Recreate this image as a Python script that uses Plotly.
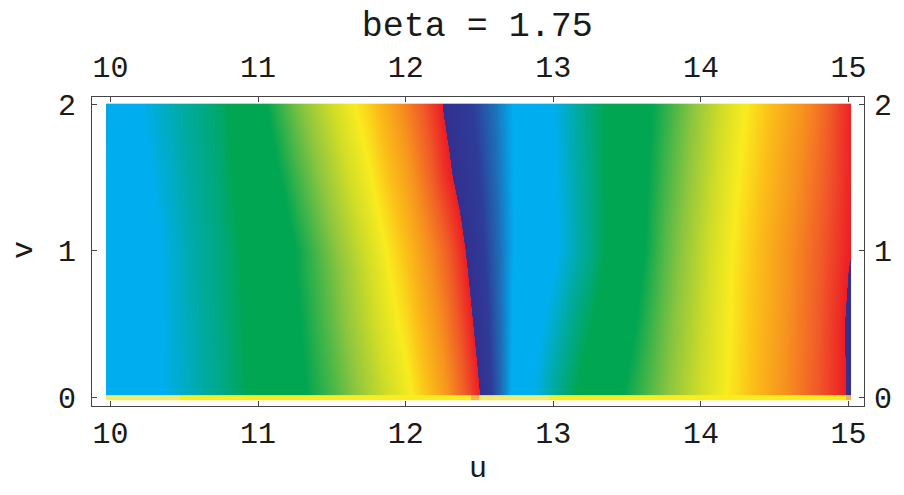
import plotly.graph_objects as go

# ---- data ----
title_text = "beta = 1.75"
x_label = "u"
y_label = "v"
x_ticks = [10, 11, 12, 13, 14, 15]
y_ticks = [0, 1, 2]

# sample grid (u columns, v rows)
u_grid = [9.98, 10.0, 10.25, 10.5, 10.75, 11.0, 11.25, 11.5, 11.75, 12.0, 12.25,
          12.5, 12.75, 13.0, 13.25, 13.5, 13.75, 14.0, 14.25, 14.5, 14.75, 15.0, 15.01]
v_grid = [0.015, 0.02, 0.5, 0.85, 1.0, 1.5, 1.995, 2.0]

# unwrapped phase (in colour cycles) read along rows
phase_v0 = [0.20, 0.20, 0.25, 0.30, 0.35, 0.42, 0.50, 0.57, 0.65, 0.73, 0.85,
            0.998, 1.22, 1.33, 1.44, 1.53, 1.61, 1.69, 1.77, 1.85, 1.93, 2.005, 2.01]
phase_v05 = [0.20, 0.20, 0.25, 0.305, 0.355, 0.425, 0.51, 0.59, 0.675, 0.765, 0.885,
             1.024, 1.21, 1.295, 1.395, 1.50, 1.595, 1.68, 1.765, 1.845, 1.925, 2.008, 2.012]
phase_v085 = [0.20, 0.20, 0.25, 0.31, 0.36, 0.43, 0.52, 0.60, 0.69, 0.79, 0.91,
              1.042, 1.205, 1.27, 1.36, 1.48, 1.584, 1.673, 1.762, 1.841, 1.921, 2.0, 2.004]
phase_v1 = [0.20, 0.20, 0.25, 0.31, 0.36, 0.43, 0.52, 0.61, 0.70, 0.80, 0.92,
            1.05, 1.20, 1.26, 1.35, 1.47, 1.58, 1.67, 1.76, 1.84, 1.92, 1.995, 1.997]
phase_v15 = [0.19, 0.20, 0.265, 0.32, 0.37, 0.465, 0.56, 0.65, 0.74, 0.845, 0.975,
             1.07, 1.20, 1.265, 1.355, 1.465, 1.565, 1.655, 1.745, 1.825, 1.905, 1.99, 1.99]
phase_v2 = [0.18, 0.19, 0.28, 0.33, 0.38, 0.50, 0.60, 0.69, 0.78, 0.89, 1.003,
            1.09, 1.20, 1.27, 1.36, 1.46, 1.55, 1.64, 1.73, 1.81, 1.89, 1.99, 1.99]

# thin band along v = 0
band_u_edges = [9.97, 10.47, 12.44, 12.5, 12.97, 14.98, 15.015]
band_v_edges = [-0.02, 0.0125]
band_level = [0, 1, 2, 0, 1, 2]

# colour cycle (fraction of cycle, colour)
cycle = [
    (0.00, "#34308F"), (0.07, "#2E3C99"), (0.13, "#1E6DB6"), (0.19, "#00AEEF"),
    (0.27, "#00AEEF"), (0.33, "#00AA9E"), (0.40, "#00A651"), (0.52, "#00A651"),
    (0.62, "#8DC63F"), (0.69, "#D2DE26"), (0.745, "#F9EC1F"), (0.80, "#FBBF18"),
    (0.87, "#F6921E"), (0.94, "#F05A28"), (1.00, "#EC1D25"),
]
n_cycles = 3
colorscale = []
for c in range(n_cycles):
    for s, col in cycle:
        colorscale.append([(c + s) / n_cycles, col])

band_scale = [[0.0, "#F4EA6C"], [0.5, "#F9EC1F"], [1.0, "#F5B24A"]]

z = [phase_v0, phase_v0, phase_v05, phase_v085, phase_v1, phase_v15, phase_v2, phase_v2]

fig = go.Figure()
fig.add_trace(go.Heatmap(
    x=u_grid, y=v_grid, z=z, colorscale=colorscale, zmin=0, zmax=n_cycles,
    zsmooth="best", showscale=False, hoverinfo="skip",
))
fig.add_trace(go.Heatmap(
    x=band_u_edges, y=band_v_edges, z=[band_level], colorscale=band_scale,
    zmin=0, zmax=2, showscale=False, hoverinfo="skip", xaxis="x2", yaxis="y2",
))

font_family = "Liberation Mono, Courier New, monospace"
xr = [9.875, 15.105]
yr = [-0.061, 2.048]
frame_col = "#444444"
text_col = "#1a1a1a"
tick_font = dict(family=font_family, size=30, color=text_col)

common = dict(ticks="inside", ticklen=5, tickwidth=1, tickcolor=frame_col,
              showgrid=False, zeroline=False, tickfont=tick_font, automargin=False)

fig.update_layout(
    width=904, height=495,
    margin=dict(l=84, r=48, t=89, b=97, autoexpand=False),
    paper_bgcolor="white", plot_bgcolor="white",
    title=dict(text=title_text, x=0.519, xanchor="center", y=0.968, yanchor="middle",
               font=dict(family=font_family, size=35, color=text_col)),
    xaxis=dict(range=xr, tickvals=x_ticks, showline=True, linecolor=frame_col,
               linewidth=1, mirror=True, ticklabelstandoff=0, **common),
    yaxis=dict(range=yr, tickvals=y_ticks, showline=True, linecolor=frame_col,
               linewidth=1, mirror=True, ticklabelstandoff=9, **common),
    xaxis2=dict(range=xr, tickvals=x_ticks, overlaying="x", side="top",
                showline=False, ticklabelstandoff=13, **common),
    yaxis2=dict(range=yr, tickvals=y_ticks, overlaying="y", side="right",
                showline=False, ticklabelstandoff=9, **common),
    annotations=[
        dict(text=x_label, x=0.5, y=-0.204, xref="paper", yref="paper",
             xanchor="center", yanchor="middle", showarrow=False, font=tick_font),
        dict(text=y_label, x=-0.088, y=0.505, xref="paper", yref="paper",
             xanchor="center", yanchor="middle", showarrow=False, font=tick_font,
             textangle=-90),
    ],
)

fig.write_html("out.html")
